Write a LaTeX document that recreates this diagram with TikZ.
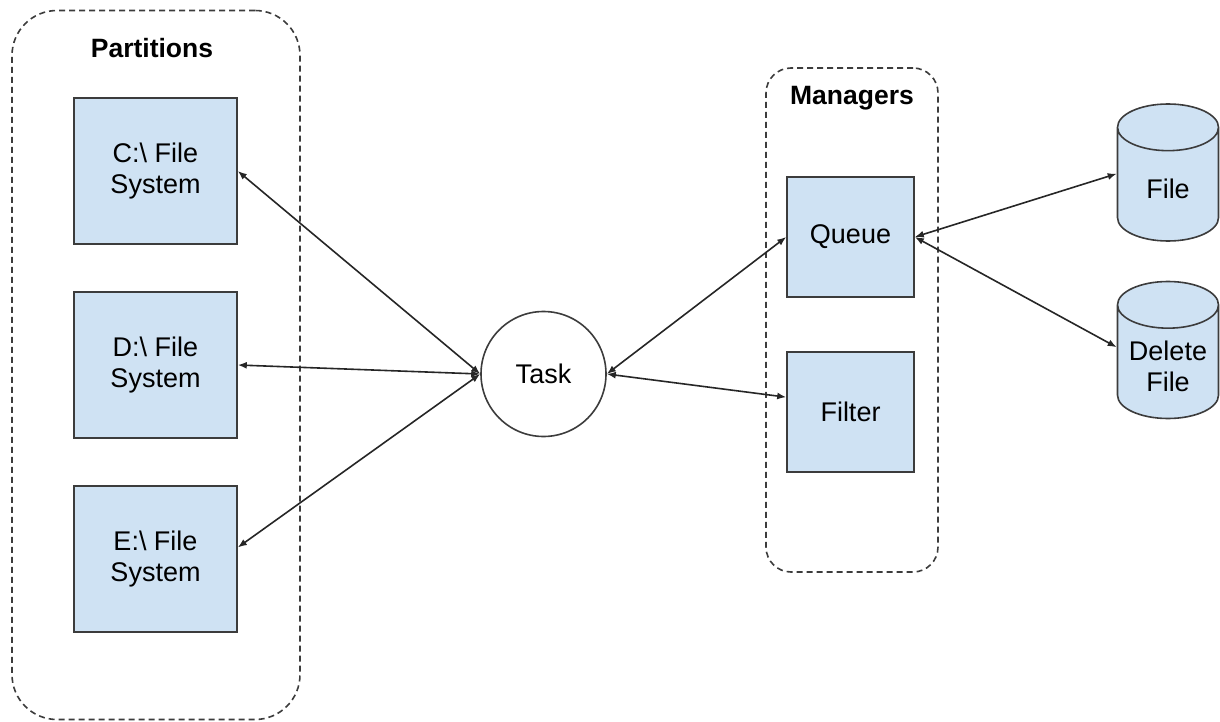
\documentclass[tikz,border=0pt]{standalone}
\usepackage{fontspec}
\setmainfont{Liberation Sans}
\usetikzlibrary{shapes.geometric,arrows.meta}
\definecolor{boxblue}{HTML}{CFE2F3}
\definecolor{edgegray}{HTML}{3C3C3C}

\begin{document}
\begin{tikzpicture}[x=1pt,y=-1pt,
    >={Latex[length=9pt,width=7pt]},
    group/.style={draw=edgegray,line width=1.6pt,dash pattern=on 6pt off 4pt},
    grouplabel/.style={font=\fontsize{26.5}{31}\selectfont\bfseries},
    fsbox/.style={fill=boxblue,draw=edgegray,line width=1.6pt,align=center,
        minimum width=163pt,minimum height=146pt,font=\fontsize{27}{31}\selectfont},
    mgrbox/.style={fsbox,minimum width=127pt,minimum height=120pt},
    store/.style={cylinder,shape border rotate=90,aspect=7,fill=boxblue,draw=edgegray,
        line width=1.6pt,minimum width=101pt,minimum height=137pt,anchor=shape center},
    storetext/.style={font=\fontsize{27}{31}\selectfont,align=center},
    link/.style={<->,line width=1.6pt,draw=black!85}]
    \useasboundingbox (0,0) rectangle (1220,722);

    \node[group,rounded corners=45pt,minimum width=288pt,minimum height=709pt] (parts) at (156,365) {};
    \node[grouplabel] (partslabel) at (152,48) {Partitions};
    \node[group,rounded corners=25pt,minimum width=172pt,minimum height=504pt] (mgrs) at (852,320) {};
    \node[grouplabel] (mgrslabel) at (852,98) {Managers};

    \node[fsbox] (C) at (155.5,171) {C:\textbackslash{} File\\System};
    \node[fsbox] (D) at (155.5,365) {D:\textbackslash{} File\\System};
    \node[fsbox] (E) at (155.5,559) {E:\textbackslash{} File\\System};

    \node[circle,draw=edgegray,line width=1.6pt,minimum size=125pt,
        font=\fontsize{27}{31}\selectfont] (Task) at (543.5,374) {Task};

    \node[mgrbox] (Queue) at (850.5,237) {Queue};
    \node[mgrbox] (Filter) at (850.5,412) {Filter};

    \node[store,label={[storetext]center:File}] (File) at (1168,172.5) {};
    \node[store,label={[storetext]center:{Delete\\File}}] (Delete) at (1168,350) {};

    \draw[link] (C.east) -- (Task.west);
    \draw[link] (D.east) -- (Task.west);
    \draw[link] (E.8) -- (Task.west);
    \draw[link] (Task.east) -- (Queue.west);
    \draw[link] (Task.east) -- (Filter.167);
    \draw[link] (Queue.east) -- ([yshift=15pt]File.west);
    \draw[link] (Queue.east) -- ([yshift=19pt]Delete.west);
\end{tikzpicture}
\end{document}
